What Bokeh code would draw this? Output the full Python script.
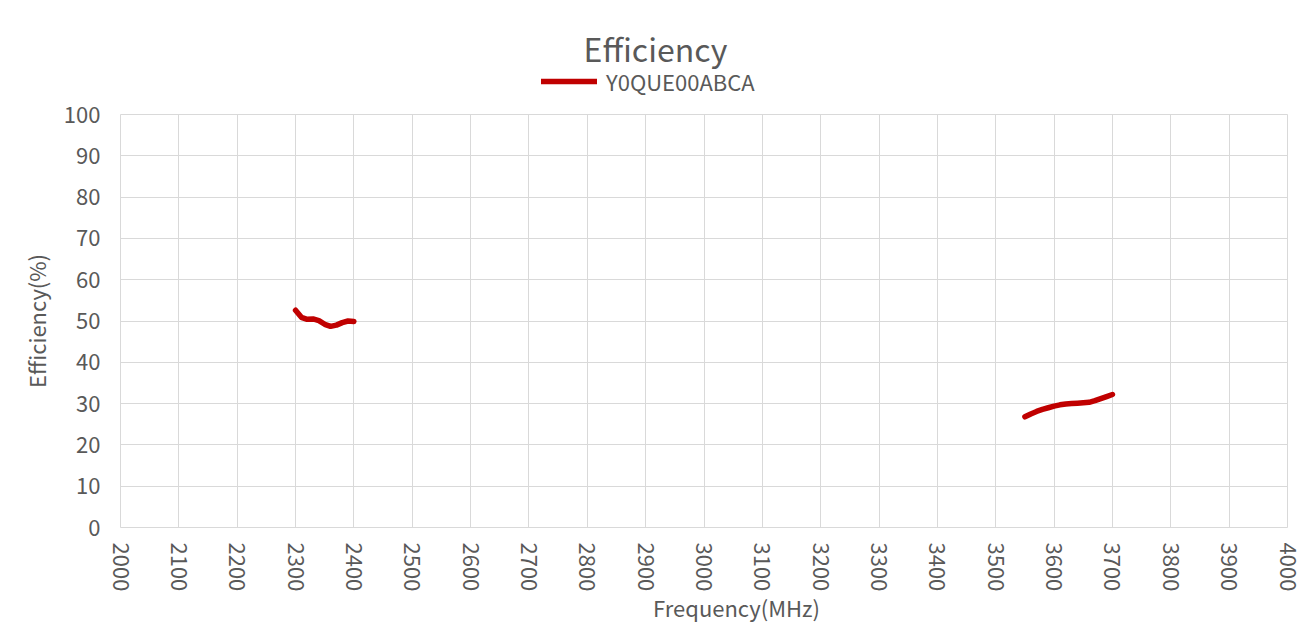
import numpy as np
from bokeh.plotting import figure
from bokeh.layouts import column
from bokeh.models import Legend, LegendItem, Label, FixedTicker
from bokeh.embed import file_html
from bokeh.resources import INLINE

# Data
freq_low = [2300, 2310, 2320, 2330, 2340, 2350, 2360, 2370, 2380, 2390, 2400]
eff_low = [52.6, 50.9, 50.4, 50.5, 50.1, 49.2, 48.7, 49.0, 49.6, 50.0, 49.9]
freq_high = [3550, 3560, 3570, 3580, 3590, 3600, 3610, 3620, 3630, 3640, 3650, 3660, 3670, 3680, 3690, 3700]
eff_high = [26.8, 27.5, 28.1, 28.6, 29.0, 29.4, 29.7, 29.9, 30.0, 30.1, 30.2, 30.3, 30.7, 31.2, 31.7, 32.2]
series_name = "Y0QUE00ABCA"
chart_title = "Efficiency"
x_title = "Frequency(MHz)"
y_title = "Efficiency(%)"
x_ticks = list(range(2000, 4001, 100))
y_ticks = list(range(0, 101, 10))

FONT = "Noto Sans CJK SC"
GRAY = "#595959"
GRID = "#D9D9D9"
RED = "#C00000"
W = 1307
HEAD_H = 97
FOOT_H = 28
FRAME_L, FRAME_R = 120, 1287

xs = freq_low + [np.nan] + freq_high
ys = eff_low + [np.nan] + eff_high


def blank(h):
    # header/footer strips; their frames get aligned with the main plot frame,
    # so the x range is expressed in page pixels of that frame
    f = figure(width=W, height=h, output_backend="svg", toolbar_location=None,
               x_range=(FRAME_L, FRAME_R), y_range=(0, h), x_axis_type=None, y_axis_type=None,
               min_border=0, min_border_left=FRAME_L, min_border_right=W - FRAME_R,
               min_border_top=0, min_border_bottom=0)
    f.outline_line_color = None
    f.xgrid.visible = False
    f.ygrid.visible = False
    f.background_fill_color = "white"
    f.border_fill_color = "white"
    return f


# Header: title and legend
head = blank(HEAD_H)
head.add_layout(Label(x=655, y=HEAD_H - 47, text=chart_title, text_align="center",
                      text_baseline="middle", text_font=FONT, text_font_size="32px",
                      text_color=GRAY))
hr = head.line(xs, ys, line_color=RED, line_width=5.5, line_cap="round")
legend = Legend(items=[LegendItem(label=series_name, renderers=[hr])],
                location=(541 - FRAME_L, 0), padding=0, margin=0, spacing=0,
                glyph_width=56, glyph_height=20, label_height=20, label_standoff=9,
                label_text_font=FONT, label_text_font_size="22px",
                label_text_color=GRAY, background_fill_alpha=0,
                border_line_color=None)
head.add_layout(legend)

# Main plot
p = figure(width=W, height=622 - HEAD_H - FOOT_H, output_backend="svg", toolbar_location=None,
           x_range=(2000, 4000), y_range=(0, 100),
           min_border_left=FRAME_L, min_border_right=W - FRAME_R,
           min_border_top=114 - HEAD_H, min_border_bottom=622 - FOOT_H - 527)
p.outline_line_color = GRID
p.background_fill_color = "white"
p.border_fill_color = "white"

p.line(xs, ys, line_color=RED, line_width=5.5, line_cap="round", line_join="round")

for ax in (p.xaxis, p.yaxis):
    ax.axis_line_color = None
    ax.major_tick_line_color = None
    ax.minor_tick_line_color = None
    ax.major_label_text_font = FONT
    ax.major_label_text_color = GRAY
    ax.major_label_text_font_size = "22px"

p.xaxis.ticker = FixedTicker(ticks=x_ticks)
p.yaxis.ticker = FixedTicker(ticks=y_ticks)
p.xaxis.major_label_orientation = "vertical"
p.xaxis.major_label_standoff = 9
p.yaxis.major_label_standoff = 14

p.yaxis.axis_label = y_title
p.yaxis.axis_label_text_font = FONT
p.yaxis.axis_label_text_font_style = "normal"
p.yaxis.axis_label_text_color = GRAY
p.yaxis.axis_label_text_font_size = "22px"
p.yaxis.axis_label_standoff = 9

p.xgrid.ticker = FixedTicker(ticks=x_ticks)
p.ygrid.ticker = FixedTicker(ticks=y_ticks)
p.xgrid.grid_line_color = GRID
p.ygrid.grid_line_color = GRID

# Footer: x axis title
foot = blank(FOOT_H)
foot.add_layout(Label(x=736, y=FOOT_H - 12, text=x_title, text_align="center",
                      text_baseline="middle", text_font=FONT, text_font_size="22px",
                      text_color=GRAY))

layout = column(head, p, foot, spacing=0)
open("out.html", "w").write(file_html(layout, INLINE))
